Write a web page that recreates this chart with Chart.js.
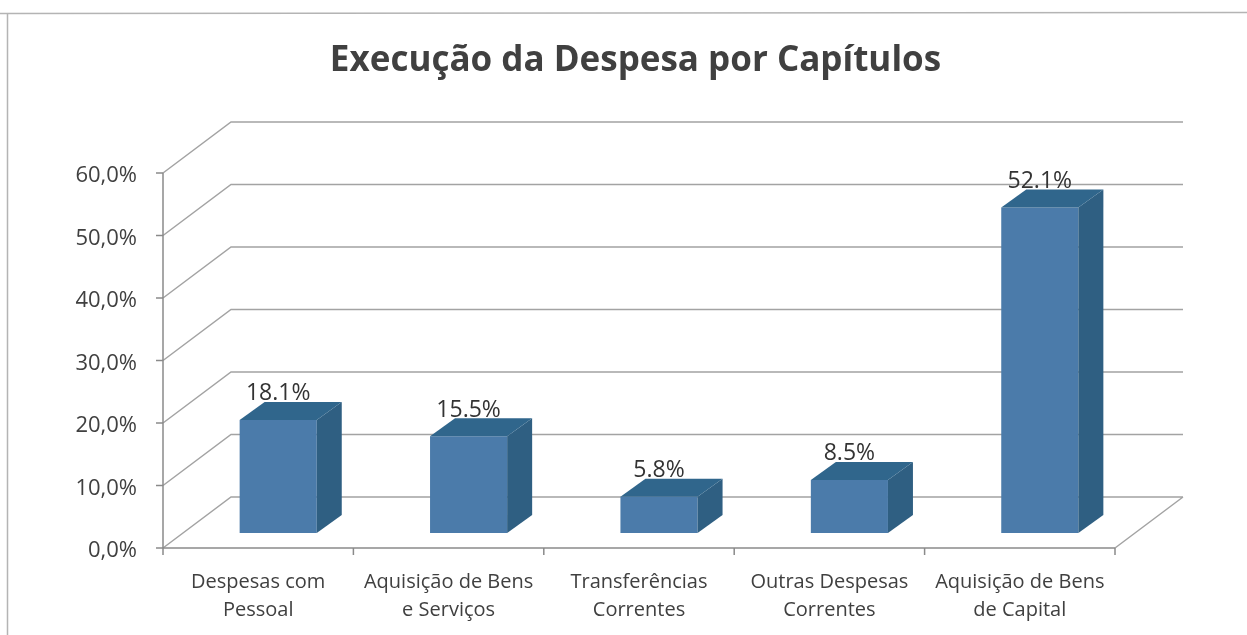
<!DOCTYPE html>
<html>
<head>
<meta charset="utf-8">
<script src="https://cdn.jsdelivr.net/npm/chart.js@4.4.1/dist/chart.umd.min.js"></script>
<style>
  html, body { margin: 0; padding: 0; background: #fff; }
  #wrap { position: relative; width: 1247px; height: 635px; }
</style>
</head>
<body>
<div id="wrap"><canvas id="grafico" width="1247" height="635"></canvas></div>
<script>
// Dati del grafico
const titolo = "Execução da Despesa por Capítulos";
const categorie = [
  ["Despesas com", "Pessoal"],
  ["Aquisição de Bens", "e Serviços"],
  ["Transferências", "Correntes"],
  ["Outras Despesas", "Correntes"],
  ["Aquisição de Bens", "de Capital"],
];
const valori = [18.1, 15.5, 5.8, 8.5, 52.1];
const tickValori = [0, 10, 20, 30, 40, 50, 60];
const tickEtichette = ["0,0%", "10,0%", "20,0%", "30,0%", "40,0%", "50,0%", "60,0%"];

// Effetto 3D: spostamenti dal piano delle barre
const FRONTE = { dx: -20, dy: 15 };
const FONDO = { dx: 48, dy: -36 };
const PROF = { dx: 25, dy: -18 };
const FONT = "'Open Sans', 'DejaVu Sans', sans-serif";

const scena3d = {
  id: "scena3d",
  beforeDraw(chart) {
    // cornice della pagina scansionata
    const ctx = chart.ctx;
    ctx.save();
    ctx.strokeStyle = "#b4b4b4";
    ctx.lineWidth = 1.5;
    ctx.beginPath();
    ctx.moveTo(0, 13.5);
    ctx.lineTo(chart.width, 12.5);
    ctx.moveTo(7.5, 14);
    ctx.lineTo(7.5, chart.height);
    ctx.stroke();
    ctx.restore();
  },
  beforeDatasetsDraw(chart) {
    const { ctx, chartArea: a, scales } = chart;
    const x = scales.x, y = scales.y;
    const p0 = y.getPixelForValue(0);
    ctx.save();
    ctx.lineWidth = 1.5;
    ctx.strokeStyle = "#a3a3a3";
    ctx.beginPath();
    tickValori.forEach((v) => {
      const py = y.getPixelForValue(v);
      ctx.moveTo(a.left + FRONTE.dx, py + FRONTE.dy);
      ctx.lineTo(a.left + FONDO.dx, py + FONDO.dy);
      ctx.lineTo(a.right + FONDO.dx, py + FONDO.dy);
    });
    ctx.moveTo(a.right + FRONTE.dx, p0 + FRONTE.dy);
    ctx.lineTo(a.right + FONDO.dx, p0 + FONDO.dy);
    ctx.stroke();

    // assi frontali
    const fx = a.left + FRONTE.dx;
    ctx.strokeStyle = "#8a8a8a";
    ctx.beginPath();
    ctx.moveTo(fx, y.getPixelForValue(60) + FRONTE.dy);
    ctx.lineTo(fx, p0 + FRONTE.dy);
    ctx.lineTo(a.right + FRONTE.dx, p0 + FRONTE.dy);
    tickValori.forEach((v) => {
      const py = y.getPixelForValue(v) + FRONTE.dy;
      ctx.moveTo(fx - 7, py);
      ctx.lineTo(fx, py);
    });
    for (let i = 0; i <= categorie.length; i++) {
      const bx = x.getPixelForValue(i - 0.5) + FRONTE.dx;
      ctx.moveTo(bx, p0 + FRONTE.dy);
      ctx.lineTo(bx, p0 + FRONTE.dy + 7);
    }
    ctx.stroke();
    ctx.restore();
  },
  afterDatasetsDraw(chart) {
    const ctx = chart.ctx;
    const meta = chart.getDatasetMeta(0);
    ctx.save();
    meta.data.forEach((bar, i) => {
      const { x: cx, y: top, base, width } = bar.getProps(["x", "y", "base", "width"], true);
      const l = cx - width / 2, r = cx + width / 2;
      // fianco
      ctx.fillStyle = "#2f5f82";
      ctx.beginPath();
      ctx.moveTo(r, top);
      ctx.lineTo(r + PROF.dx, top + PROF.dy);
      ctx.lineTo(r + PROF.dx, base + PROF.dy);
      ctx.lineTo(r, base);
      ctx.closePath();
      ctx.fill();
      // faccia superiore
      ctx.fillStyle = "#30668c";
      ctx.beginPath();
      ctx.moveTo(l, top);
      ctx.lineTo(l + PROF.dx, top + PROF.dy);
      ctx.lineTo(r + PROF.dx, top + PROF.dy);
      ctx.lineTo(r, top);
      ctx.closePath();
      ctx.fill();

      ctx.fillStyle = "#333333";
      ctx.font = "23px " + FONT;
      ctx.textAlign = "center";
      ctx.textBaseline = "middle";
      ctx.fillText(valori[i].toFixed(1) + "%", cx, top - 26);
    });
    ctx.restore();
  },
};

new Chart(document.getElementById("grafico").getContext("2d"), {
  type: "bar",
  data: {
    labels: categorie,
    datasets: [
      {
        label: "Execução",
        data: valori,
        backgroundColor: "#4b7baa",
        borderWidth: 0,
        categoryPercentage: 1,
        barPercentage: 0.405,
      },
    ],
  },
  options: {
    responsive: false,
    animation: false,
    layout: { padding: { left: 24, right: 0, top: 0, bottom: 0 } },
    plugins: {
      legend: { display: false },
      tooltip: { enabled: false },
      title: {
        display: true,
        text: titolo,
        color: "#404040",
        font: { family: FONT, size: 35, weight: "bold", lineHeight: 1.2 },
        padding: { top: 40, bottom: 76 },
      },
    },
    scales: {
      x: {
        grid: { display: false, drawTicks: false },
        border: { display: false },
        ticks: {
          color: "#404040",
          font: { family: FONT, size: 20, lineHeight: 1.4 },
          padding: 35,
          labelOffset: FRONTE.dx,
          maxRotation: 0,
          autoSkip: false,
        },
        afterFit: (s) => { s.height = 102; },
      },
      y: {
        min: 0,
        max: 60,
        grid: { display: false, drawTicks: false },
        border: { display: false },
        ticks: {
          stepSize: 10,
          color: "#404040",
          font: { family: FONT, size: 22 },
          padding: 46,
          labelOffset: 18,
          callback: (v) => tickEtichette[tickValori.indexOf(v)],
        },
        afterFit: (s) => { s.width = 159; },
      },
      // asse vuoto a destra: lascia lo spazio della parete di fondo
      destra: {
        position: "right",
        min: 0,
        max: 1,
        grid: { display: false, drawTicks: false },
        border: { display: false },
        ticks: { display: false },
        afterFit: (s) => { s.width = 112; },
      },
    },
  },
  plugins: [scena3d],
});
</script>
</body>
</html>
